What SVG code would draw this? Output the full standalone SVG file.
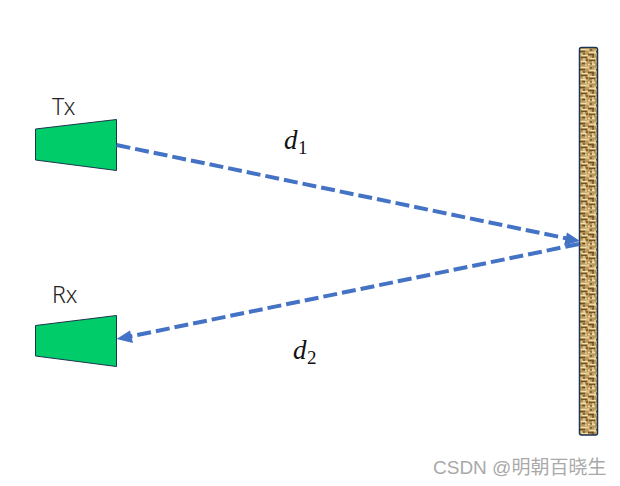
<svg xmlns="http://www.w3.org/2000/svg" width="620" height="486" viewBox="0 0 620 486">
<style>
.ant{fill:#00cc69;stroke:#1c3550;stroke-width:1}
.ray{fill:none;stroke:#4472c4;stroke-width:4;stroke-dasharray:14 5}
.head{fill:#4472c4}
.lbl{font-family:"Noto Sans","Liberation Sans",sans-serif;font-size:23px;font-weight:300;fill:#222}
.math{font-family:"Liberation Serif","DejaVu Serif",serif;font-size:27px;font-style:italic;fill:#111}
.sub{font-family:"Liberation Serif","DejaVu Serif",serif;font-size:19px;fill:#111}
.wm{font-family:"Liberation Sans","Noto Sans CJK SC",sans-serif;font-size:19px;fill:#a9a9a9}
</style>
<defs>
<pattern id="weave" x="580" y="48" width="16" height="18" patternUnits="userSpaceOnUse">
<rect width="16" height="18" fill="#bd9a5c"/>
<path d="M0 1.500H7M9 4.500H16M2 7.500H8M10 10.500H16M0 13.500H6M8 16.500H15" stroke="#f1dfa8" stroke-width="1.600"/>
<path d="M0 3.500H5M8 6.500H14M1 9.500H7M9 12.500H15M2 15.500H7" stroke="#6f5026" stroke-width="1.300"/>
<path d="M8 0V3M15 2V6M1 5V8M9 8V11M4 10V13M13 13V17M6 14V18" stroke="#f1dfa8" stroke-width="1.200"/>
<path d="M11 1V3M4 5V7M13 7V10M7 11V13M11 15V17" stroke="#5f4219" stroke-width="1.200"/>
</pattern>
</defs>
<g id="wall"><rect x="579.500" y="47.500" width="18" height="387.500" rx="2" fill="url(#weave)" stroke="#1c3550" stroke-width="1.500"/></g>
<g id="tx"><polygon class="ant" points="35.500,129 116.500,119.500 116.500,170.500 35.500,160"/><text class="lbl" x="52" y="115">Tx</text></g>
<g id="rx"><polygon class="ant" points="35.500,325.500 116.500,315.500 116.500,366.500 35.500,356"/><text class="lbl" x="52" y="303">Rx</text></g>
<g id="connectors">
<line class="ray" x1="116.500" y1="145" x2="567" y2="238.500"/>
<polygon class="head" points="580,241 564,245.500 567,232.500"/>
<line class="ray" x1="579" y1="244" x2="130" y2="336.500"/>
<polygon class="head" points="116.500,339 130,330.500 133,343"/>
</g>
<g id="label-d1"><text class="math" x="284" y="149">d</text><text class="sub" x="298" y="154">1</text></g>
<g id="label-d2"><text class="math" x="293" y="359">d</text><text class="sub" x="307" y="364">2</text></g>
<text class="wm" x="433" y="474">CSDN @明朝百晓生</text>
</svg>
